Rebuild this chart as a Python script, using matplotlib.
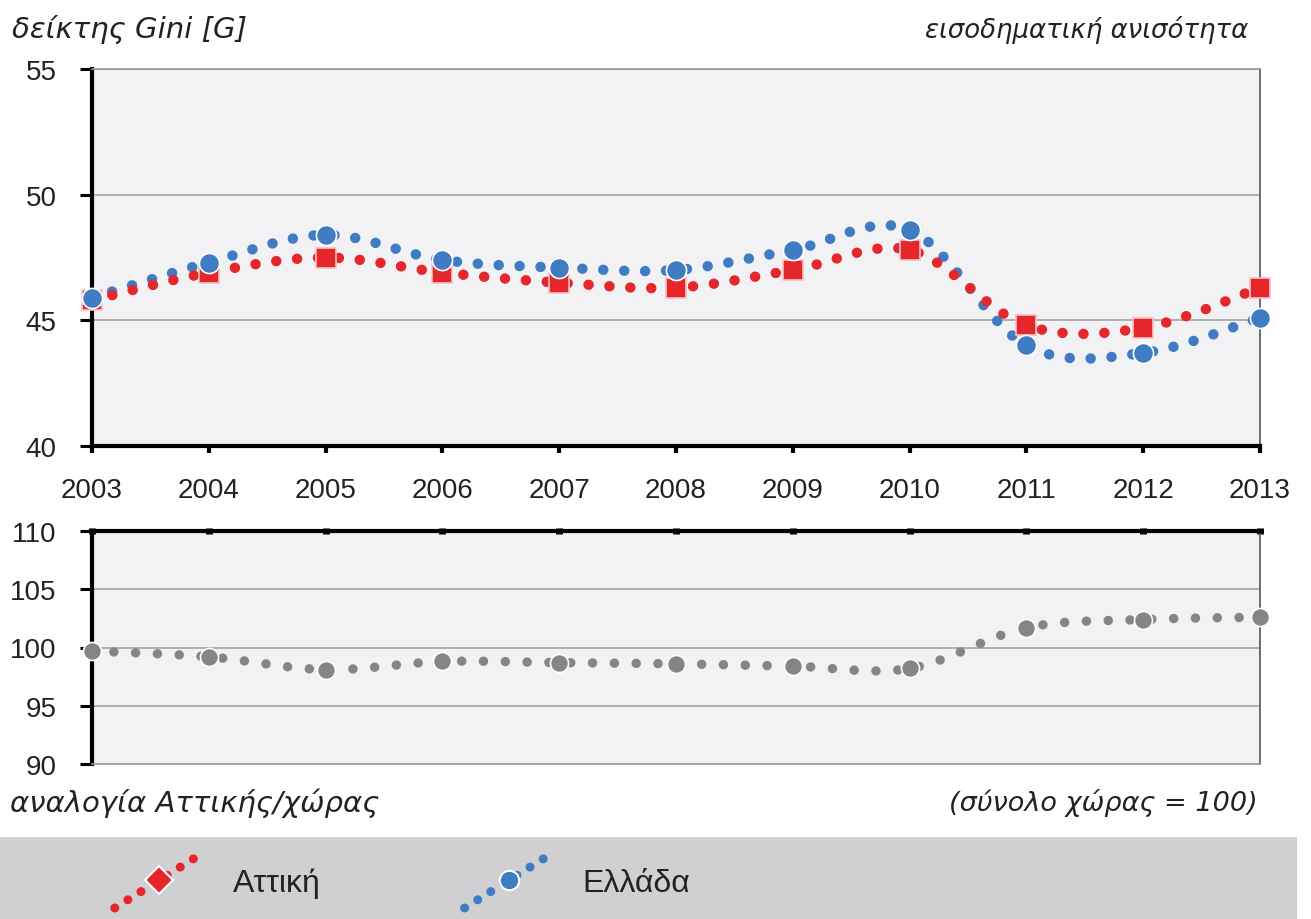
import matplotlib.pyplot as plt
import numpy as np
from matplotlib.lines import Line2D
from matplotlib.patches import Rectangle
from matplotlib.legend_handler import HandlerLine2D

plt.rcParams['font.family'] = ['Liberation Sans', 'DejaVu Sans']

years = [2003, 2004, 2005, 2006, 2007, 2008, 2009, 2010, 2011, 2012, 2013]
attiki = [45.8, 46.9, 47.5, 46.9, 46.5, 46.3, 47.0, 47.8, 44.8, 44.7, 46.3]
ellada = [45.9, 47.3, 48.4, 47.4, 47.1, 47.0, 47.8, 48.6, 44.0, 43.7, 45.1]
ratio = [99.7, 99.2, 98.1, 98.8, 98.7, 98.6, 98.4, 98.2, 101.7, 102.4, 102.6]

RED = '#e5262b'
BLUE = '#3f7cc4'
GREY = '#858585'
BG = '#f2f2f4'
GRID = '#aaaaaa'


def smooth(x, y, n=40):
    # smoothed line like Excel (bezier with catmull-rom control points)
    x = np.asarray(x, float)
    y = np.asarray(y, float)
    px = np.concatenate([[x[0]], x, [x[-1]]])
    py = np.concatenate([[y[0]], y, [y[-1]]])
    t = np.linspace(0, 1, n)[:, None]
    xs, ys = [], []
    for i in range(1, len(px) - 2):
        p0 = np.array([px[i], py[i]])
        p3 = np.array([px[i + 1], py[i + 1]])
        c1 = p0 + (np.array([px[i + 1], py[i + 1]]) - np.array([px[i - 1], py[i - 1]])) / 6
        c2 = p3 - (np.array([px[i + 2], py[i + 2]]) - np.array([px[i], py[i]])) / 6
        b = ((1 - t) ** 3) * p0 + 3 * ((1 - t) ** 2) * t * c1 + 3 * (1 - t) * t ** 2 * c2 + t ** 3 * p3
        xs.append(b[:, 0])
        ys.append(b[:, 1])
    return np.concatenate(xs), np.concatenate(ys)


W, H = 1311, 920
fig = plt.figure(figsize=(W / 100, H / 100), dpi=100)
ax1 = fig.add_axes([92 / W, 1 - 447 / H, 1168 / W, 377 / H])
ax2 = fig.add_axes([92 / W, 1 - 765 / H, 1168 / W, 233 / H])

dot = dict(linestyle=(0, (0.01, 2.0)), dash_capstyle='round', lw=7.5, clip_on=False)

sx, sy = smooth(years, ellada)
ax1.plot(sx, sy, color=BLUE, zorder=3, **dot)
sx, sy = smooth(years, attiki)
ax1.plot(sx, sy, color=RED, zorder=4, **dot)
ax1.plot(years, attiki, 's', color=RED, ms=15, mec='#f6c3c3', mew=1.2, zorder=5, clip_on=False)
ax1.plot(years, ellada, 'o', color=BLUE, ms=14.5, mec='white', mew=1.2, zorder=6, clip_on=False)

sx, sy = smooth(years, ratio)
ax2.plot(sx, sy, color=GREY, zorder=3, linestyle=(0, (0.01, 2.3)), dash_capstyle='round',
         lw=6.8, clip_on=False)
ax2.plot(years, ratio, 'o', color=GREY, ms=13, mec='white', mew=1.2, zorder=5, clip_on=False)

for ax in (ax1, ax2):
    ax.set_facecolor(BG)
    ax.set_xlim(2003, 2013)
    ax.set_xticks(years)
    ax.yaxis.grid(True, color=GRID, lw=1.3)
    ax.set_axisbelow(True)
    ax.spines['left'].set_linewidth(3)
    ax.spines['left'].set_color('black')
    ax.spines['right'].set_linewidth(1.2)
    ax.spines['right'].set_color('#555555')
    ax.tick_params(axis='y', direction='out', length=8.5, width=2.2, pad=17,
                   labelsize=20, colors='black')
    for lab in ax.get_yticklabels():
        lab.set_color('#222222')

ax1.set_ylim(40, 55)
ax1.set_yticks([40, 45, 50, 55])
ax1.spines['bottom'].set_linewidth(3)
ax1.spines['top'].set_linewidth(1.2)
ax1.spines['top'].set_color('#999999')
ax1.tick_params(axis='x', direction='out', length=5, width=3, pad=17, labelsize=20,
                labelcolor='#222222')

ax2.set_ylim(90, 110)
ax2.set_yticks([90, 95, 100, 105, 110])
ax2.xaxis.tick_top()
ax2.tick_params(axis='x', direction='inout', length=5, width=5, labeltop=False)
ax2.spines['top'].set_linewidth(3)
ax2.spines['bottom'].set_linewidth(1.2)
ax2.spines['bottom'].set_color('#999999')

note = dict(family=['DejaVu Sans'], style='italic', va='center', color='#222222')
fig.text(12 / W, 1 - 30 / H, 'δείκτης Gini [G]', fontsize=21, ha='left', **note)
fig.text(1248 / W, 1 - 30 / H, 'εισοδηματική ανισότητα', fontsize=18.7, ha='right', **note)
fig.text(10 / W, 1 - 803 / H, 'αναλογία Αττικής/χώρας', fontsize=21, ha='left', **note)
fig.text(1258 / W, 1 - 803 / H, '(σύνολο χώρας = 100)', fontsize=19.5, ha='right', **note)

fig.add_artist(Rectangle((0, 0), 1297 / W, (H - 838) / H, transform=fig.transFigure,
                         facecolor='#d0d0d2', edgecolor='none', zorder=0))


class DiagonalHandler(HandlerLine2D):
    def create_artists(self, legend, orig_handle, xdescent, ydescent, width, height, fontsize, trans):
        x0, x1 = -xdescent, -xdescent + width
        yc = -ydescent + height / 2
        line = Line2D([x0, x1], [yc - 1.25 * height, yc + 1.25 * height])
        self.update_prop(line, orig_handle, legend)
        line.set_marker('None')
        mk = Line2D([(x0 + x1) / 2], [yc])
        self.update_prop(mk, orig_handle, legend)
        mk.set_linestyle('None')
        line.set_transform(trans)
        mk.set_transform(trans)
        return [line, mk]


h_att = Line2D([], [], color=RED, linestyle=(0, (0.01, 1.7)), dash_capstyle='round', lw=6.5,
               marker='D', ms=14, mfc=RED, mec='white', mew=1.5)
h_ell = Line2D([], [], color=BLUE, linestyle=(0, (0.01, 1.7)), dash_capstyle='round', lw=6.5,
               marker='o', ms=14, mfc=BLUE, mec='white', mew=1.5)
fig.legend([h_att, h_ell], ['Αττική', 'Ελλάδα'], loc='center left',
           bbox_to_anchor=(86 / W, 1 - 884 / H), ncol=2, frameon=False, fontsize=23,
           handlelength=2.8, handletextpad=0.9, columnspacing=4.5,
           labelcolor='#222222', handler_map={Line2D: DiagonalHandler()})

fig.savefig('out.png', dpi=100)
